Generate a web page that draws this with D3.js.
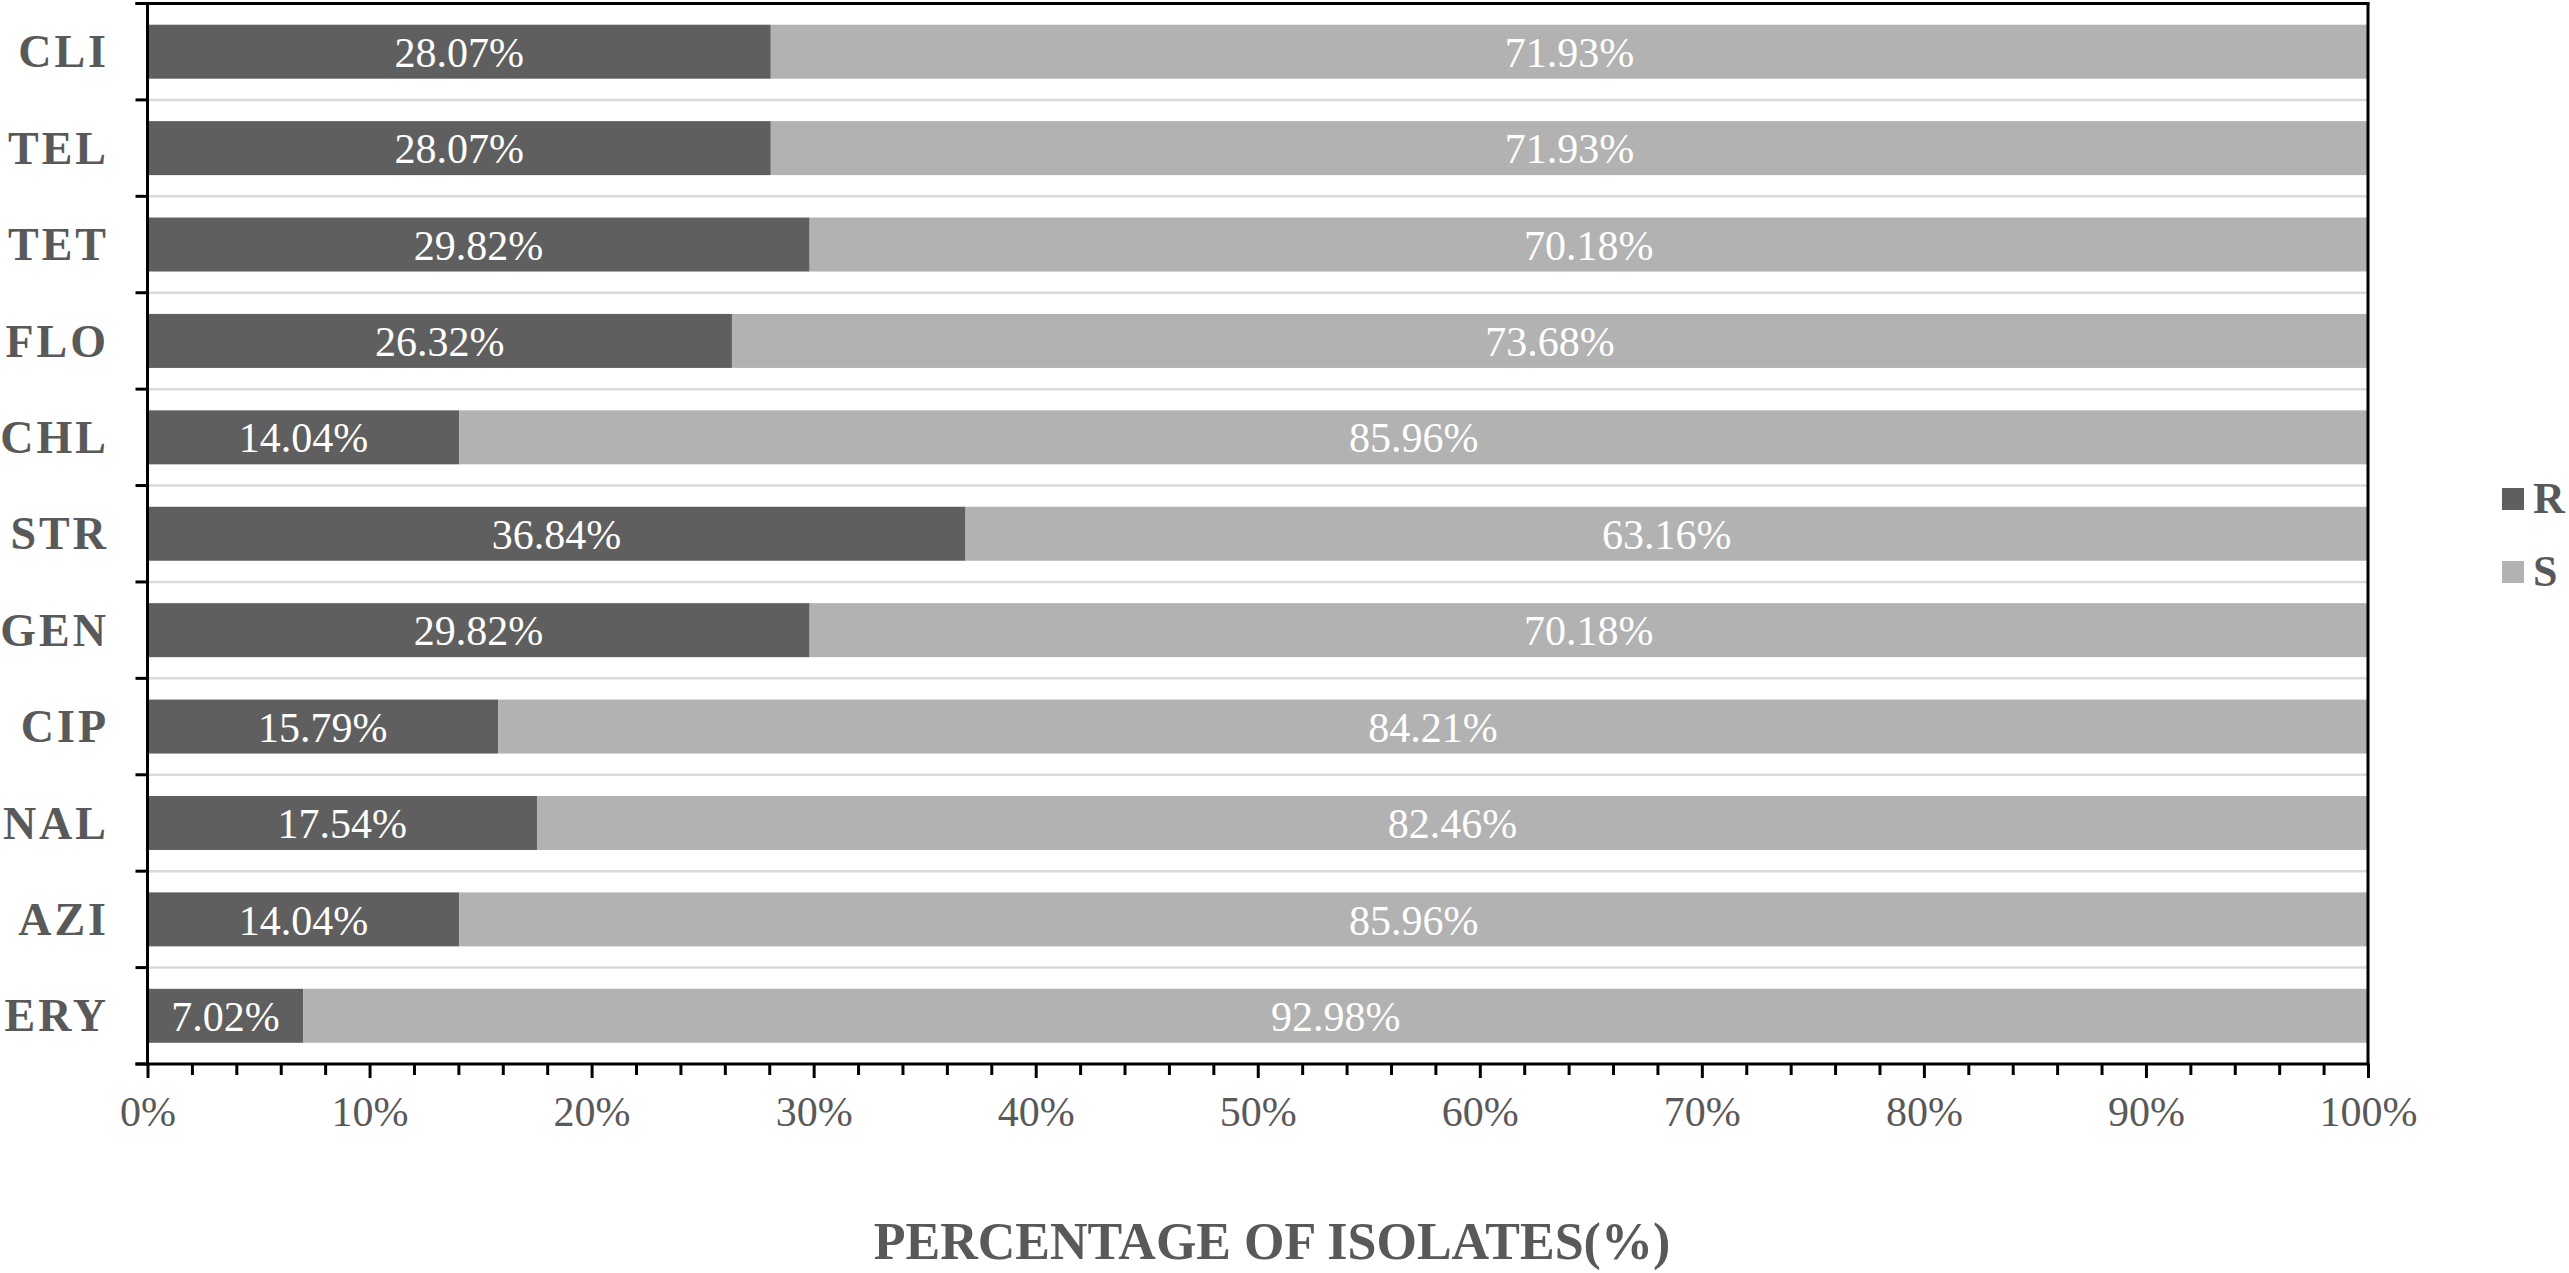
<!DOCTYPE html>
<html>
<head>
<meta charset="utf-8">
<script src="https://cdn.jsdelivr.net/npm/d3@7"></script>
<style>
  html, body { margin: 0; padding: 0; background: #fff; }
  svg { display: block; }
  text { font-family: "Liberation Serif", "Times New Roman", serif; }
</style>
</head>
<body>
<svg id="chart" width="2569" height="1273"></svg>
<script>
const categories = ["CLI", "TEL", "TET", "FLO", "CHL", "STR", "GEN", "CIP", "NAL", "AZI", "ERY"];
const resistant = [28.07, 28.07, 29.82, 26.32, 14.04, 36.84, 29.82, 15.79, 17.54, 14.04, 7.02];
const susceptible = [71.93, 71.93, 70.18, 73.68, 85.96, 63.16, 70.18, 84.21, 82.46, 85.96, 92.98];
const seriesNames = ["R", "S"];
const seriesColors = ["#5f5f5f", "#b2b2b2"];
const majorTicks = [0, 10, 20, 30, 40, 50, 60, 70, 80, 90, 100];
const minorTicks = [2, 4, 6, 8, 12, 14, 16, 18, 22, 24, 26, 28, 32, 34, 36, 38, 42, 44, 46, 48, 52, 54, 56, 58, 62, 64, 66, 68, 72, 74, 76, 78, 82, 84, 86, 88, 92, 94, 96, 98];
const xTitle = "PERCENTAGE OF ISOLATES(%)";

(function () {
const svg = d3.select("#chart");
const pLeft = 147.5, pRight = 2368, pTop = 3.5, pBottom = 1064;
const textGray = "#595959";

const x = d3.scaleLinear().domain([0, 100]).range([pLeft, pRight]);
const y = d3.scaleBand().domain(categories).range([pTop, pBottom]).paddingInner(0.44).paddingOuter(0.22);

const rows = categories.map((c, i) => ({ cat: c, R: resistant[i], S: susceptible[i] }));
const stacked = d3.stack().keys(seriesNames)(rows);

// gridlines at band boundaries
const boundaries = d3.range(1, categories.length).map(i => y.range()[0] + i * y.step());
svg.append("g").selectAll("line").data(boundaries).join("line")
  .attr("x1", pLeft).attr("x2", pRight)
  .attr("y1", d => d).attr("y2", d => d)
  .attr("stroke", "#d9d9d9").attr("stroke-width", 2.5);

// bars
const layers = svg.append("g").selectAll("g").data(stacked).join("g")
  .attr("fill", (d, i) => seriesColors[i]);
layers.selectAll("rect").data(d => d).join("rect")
  .attr("x", d => x(d[0]))
  .attr("width", d => x(d[1]) - x(d[0]))
  .attr("y", d => y(d.data.cat))
  .attr("height", y.bandwidth());

// bar labels
const labels = svg.append("g");
stacked.forEach(layer => {
  labels.append("g").selectAll("text").data(layer).join("text")
    .attr("x", d => x((d[0] + d[1]) / 2))
    .attr("y", d => y(d.data.cat) + y.bandwidth() / 2)
    .attr("dy", "0.36em")
    .attr("text-anchor", "middle")
    .attr("fill", "#ffffff")
    .attr("font-size", 42)
    .text(d => (d[1] - d[0]).toFixed(2) + "%");
});

// frame: top and right
svg.append("line").attr("x1", pLeft - 12).attr("x2", pRight + 1.5).attr("y1", pTop).attr("y2", pTop)
  .attr("stroke", "#000").attr("stroke-width", 3);
svg.append("line").attr("x1", pRight).attr("x2", pRight).attr("y1", pTop).attr("y2", pBottom)
  .attr("stroke", "#000").attr("stroke-width", 3);

// y axis
const yAxisG = svg.append("g").attr("transform", `translate(${pLeft},0)`);
yAxisG.append("line").attr("x1", 0).attr("x2", 0).attr("y1", pTop).attr("y2", pBottom + 1.5)
  .attr("stroke", "#000").attr("stroke-width", 3);
const yTickPos = d3.range(0, categories.length + 1).map(i => y.range()[0] + i * y.step());
yAxisG.selectAll("line.tick").data(yTickPos).join("line").attr("class", "tick")
  .attr("x1", -12).attr("x2", 0).attr("y1", d => d).attr("y2", d => d)
  .attr("stroke", "#000").attr("stroke-width", 3);
svg.append("g").selectAll("text").data(categories).join("text")
  .attr("x", 109)
  .attr("y", d => y(d) + y.bandwidth() / 2)
  .attr("dy", "0.34em")
  .attr("text-anchor", "end")
  .attr("fill", textGray)
  .attr("font-size", 46)
  .attr("font-weight", "bold")
  .attr("letter-spacing", 3)
  .text(d => d);

// x axis
const xMinor = d3.axisBottom(x).tickValues(minorTicks).tickSize(11).tickFormat("");
const xMajor = d3.axisBottom(x).tickValues(majorTicks).tickSize(14).tickPadding(18).tickFormat(d => d + "%");
const gMinor = svg.append("g").attr("transform", `translate(0,${pBottom})`).call(xMinor);
const gMajor = svg.append("g").attr("transform", `translate(0,${pBottom})`).call(xMajor);
[gMinor, gMajor].forEach(g => {
  g.select(".domain").remove();
  g.selectAll(".tick line").attr("stroke", "#000").attr("stroke-width", 3);
});
gMajor.selectAll(".tick text")
  .attr("fill", textGray)
  .attr("font-size", 42)
  .attr("font-family", "Liberation Serif, Times New Roman, serif");
svg.append("line").attr("x1", pLeft - 12).attr("x2", pRight + 1.5).attr("y1", pBottom).attr("y2", pBottom)
  .attr("stroke", "#000").attr("stroke-width", 3);

// x title
svg.append("text")
  .attr("x", 1272).attr("y", 1259)
  .attr("text-anchor", "middle")
  .attr("fill", textGray)
  .attr("font-size", 52)
  .attr("font-weight", "bold")
  .text(xTitle);

// legend
const legend = svg.append("g");
const legendY = [488, 561];
seriesNames.forEach((name, i) => {
  legend.append("rect").attr("x", 2502).attr("y", legendY[i]).attr("width", 22).attr("height", 22)
    .attr("fill", seriesColors[i]);
  legend.append("text").attr("x", 2533).attr("y", legendY[i] + 25)
    .attr("fill", textGray).attr("font-size", 44).attr("font-weight", "bold")
    .text(name);
});
})();
</script>
</body>
</html>
